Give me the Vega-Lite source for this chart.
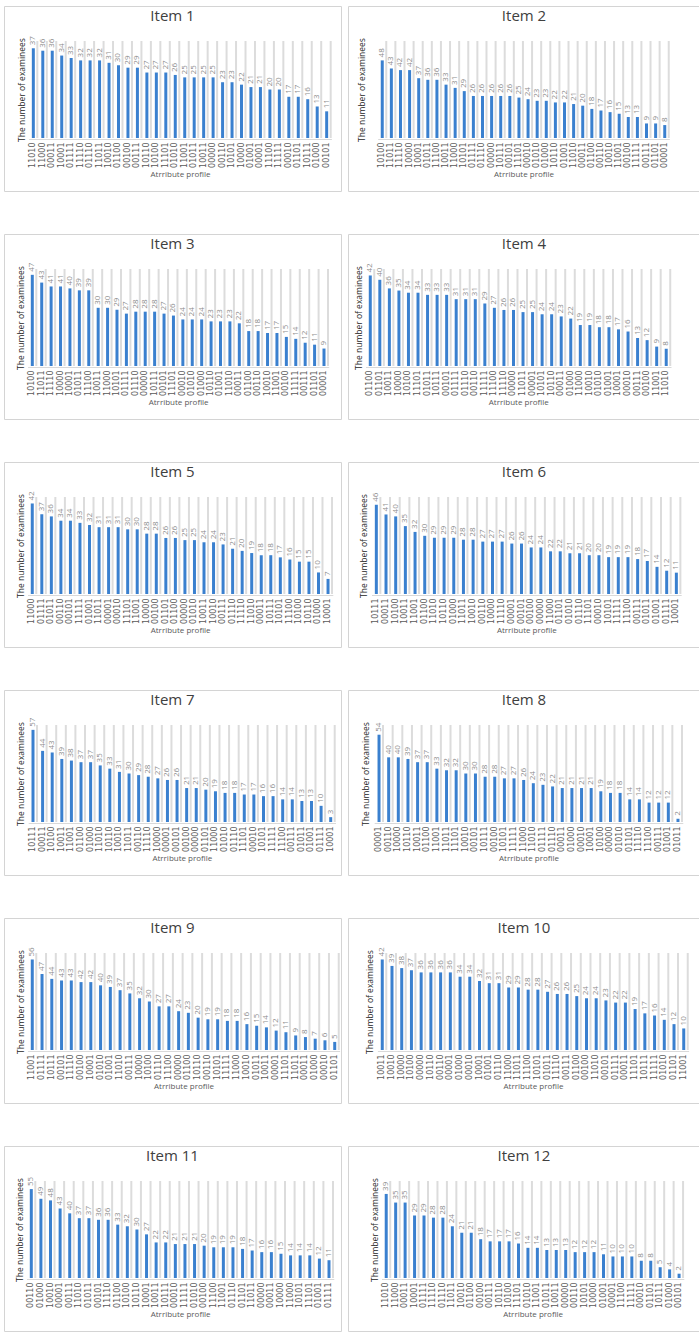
{
  "$schema": "https://vega.github.io/schema/vega-lite/v6.json",
  "background": "white",
  "padding": {"left": 3, "top": 5, "right": 0, "bottom": 0},
  "datasets": {
    "item1": [
      {"profile": "11010", "n": 37}, {"profile": "11000", "n": 36}, {"profile": "00011", "n": 36}, {"profile": "10001", "n": 34},
      {"profile": "01111", "n": 33}, {"profile": "11110", "n": 32}, {"profile": "01110", "n": 32}, {"profile": "11011", "n": 32},
      {"profile": "10010", "n": 31}, {"profile": "01100", "n": 30}, {"profile": "00100", "n": 29}, {"profile": "00111", "n": 29},
      {"profile": "10110", "n": 27}, {"profile": "10100", "n": 27}, {"profile": "11101", "n": 27}, {"profile": "01010", "n": 26},
      {"profile": "11001", "n": 25}, {"profile": "01011", "n": 25}, {"profile": "10011", "n": 25}, {"profile": "00000", "n": 25},
      {"profile": "00110", "n": 23}, {"profile": "10101", "n": 23}, {"profile": "10000", "n": 22}, {"profile": "01001", "n": 21},
      {"profile": "00001", "n": 21}, {"profile": "11100", "n": 20}, {"profile": "11111", "n": 20}, {"profile": "00010", "n": 17},
      {"profile": "01101", "n": 17}, {"profile": "10111", "n": 16}, {"profile": "01000", "n": 13}, {"profile": "00101", "n": 11}
    ],
    "item2": [
      {"profile": "10100", "n": 48}, {"profile": "11011", "n": 43}, {"profile": "11110", "n": 42}, {"profile": "10000", "n": 42},
      {"profile": "10001", "n": 37}, {"profile": "01011", "n": 36}, {"profile": "11100", "n": 36}, {"profile": "10011", "n": 33},
      {"profile": "11000", "n": 31}, {"profile": "10101", "n": 29}, {"profile": "01111", "n": 26}, {"profile": "01110", "n": 26},
      {"profile": "00000", "n": 26}, {"profile": "10111", "n": 26}, {"profile": "00101", "n": 26}, {"profile": "11101", "n": 25},
      {"profile": "00010", "n": 24}, {"profile": "01010", "n": 23}, {"profile": "01000", "n": 23}, {"profile": "10110", "n": 22},
      {"profile": "01001", "n": 22}, {"profile": "11010", "n": 21}, {"profile": "00011", "n": 20}, {"profile": "01100", "n": 18},
      {"profile": "00110", "n": 17}, {"profile": "10010", "n": 16}, {"profile": "11001", "n": 15}, {"profile": "00100", "n": 13},
      {"profile": "11111", "n": 13}, {"profile": "00111", "n": 9}, {"profile": "01101", "n": 9}, {"profile": "00001", "n": 8}
    ],
    "item3": [
      {"profile": "10100", "n": 47}, {"profile": "11011", "n": 43}, {"profile": "11110", "n": 41}, {"profile": "10000", "n": 41},
      {"profile": "10001", "n": 40}, {"profile": "01011", "n": 39}, {"profile": "11100", "n": 39}, {"profile": "10011", "n": 30},
      {"profile": "11000", "n": 30}, {"profile": "10101", "n": 29}, {"profile": "01111", "n": 27}, {"profile": "01110", "n": 28},
      {"profile": "00000", "n": 28}, {"profile": "10111", "n": 28}, {"profile": "00101", "n": 27}, {"profile": "11101", "n": 26},
      {"profile": "00010", "n": 24}, {"profile": "01010", "n": 24}, {"profile": "01000", "n": 24}, {"profile": "10110", "n": 23},
      {"profile": "01001", "n": 23}, {"profile": "11010", "n": 23}, {"profile": "00011", "n": 22}, {"profile": "01100", "n": 18},
      {"profile": "00110", "n": 18}, {"profile": "10010", "n": 17}, {"profile": "11001", "n": 17}, {"profile": "00100", "n": 15},
      {"profile": "11111", "n": 14}, {"profile": "00111", "n": 12}, {"profile": "01101", "n": 11}, {"profile": "00001", "n": 9}
    ],
    "item4": [
      {"profile": "01100", "n": 42}, {"profile": "01101", "n": 40}, {"profile": "10011", "n": 36}, {"profile": "10000", "n": 35},
      {"profile": "10100", "n": 34}, {"profile": "11101", "n": 34}, {"profile": "01011", "n": 33}, {"profile": "10111", "n": 33},
      {"profile": "00101", "n": 33}, {"profile": "01111", "n": 31}, {"profile": "01110", "n": 31}, {"profile": "00110", "n": 31},
      {"profile": "11111", "n": 29}, {"profile": "11100", "n": 27}, {"profile": "11110", "n": 26}, {"profile": "00000", "n": 26},
      {"profile": "11011", "n": 25}, {"profile": "00001", "n": 25}, {"profile": "10101", "n": 24}, {"profile": "10110", "n": 24},
      {"profile": "00011", "n": 23}, {"profile": "01000", "n": 22}, {"profile": "11000", "n": 19}, {"profile": "10010", "n": 19},
      {"profile": "01010", "n": 18}, {"profile": "01001", "n": 18}, {"profile": "10001", "n": 17}, {"profile": "00010", "n": 16},
      {"profile": "00111", "n": 13}, {"profile": "00100", "n": 12}, {"profile": "11001", "n": 9}, {"profile": "11010", "n": 8}
    ],
    "item5": [
      {"profile": "11000", "n": 42}, {"profile": "01111", "n": 37}, {"profile": "01011", "n": 36}, {"profile": "00110", "n": 34},
      {"profile": "00101", "n": 34}, {"profile": "11111", "n": 33}, {"profile": "01001", "n": 32}, {"profile": "11011", "n": 31},
      {"profile": "00001", "n": 31}, {"profile": "00010", "n": 31}, {"profile": "11101", "n": 30}, {"profile": "11001", "n": 30},
      {"profile": "10000", "n": 28}, {"profile": "00100", "n": 28}, {"profile": "01101", "n": 26}, {"profile": "01100", "n": 26},
      {"profile": "00000", "n": 25}, {"profile": "01010", "n": 25}, {"profile": "10011", "n": 24}, {"profile": "10010", "n": 24},
      {"profile": "00111", "n": 23}, {"profile": "01110", "n": 21}, {"profile": "11110", "n": 20}, {"profile": "11010", "n": 19},
      {"profile": "00011", "n": 18}, {"profile": "10111", "n": 18}, {"profile": "10101", "n": 17}, {"profile": "11100", "n": 16},
      {"profile": "10100", "n": 15}, {"profile": "10110", "n": 15}, {"profile": "01000", "n": 10}, {"profile": "10001", "n": 7}
    ],
    "item6": [
      {"profile": "10111", "n": 46}, {"profile": "00011", "n": 41}, {"profile": "10100", "n": 40}, {"profile": "10011", "n": 35},
      {"profile": "11001", "n": 32}, {"profile": "01100", "n": 30}, {"profile": "11010", "n": 29}, {"profile": "10110", "n": 29},
      {"profile": "01000", "n": 29}, {"profile": "11011", "n": 28}, {"profile": "10010", "n": 28}, {"profile": "00110", "n": 27},
      {"profile": "10000", "n": 27}, {"profile": "11110", "n": 27}, {"profile": "00001", "n": 26}, {"profile": "00101", "n": 26},
      {"profile": "00100", "n": 24}, {"profile": "00000", "n": 24}, {"profile": "11000", "n": 22}, {"profile": "01101", "n": 22},
      {"profile": "01010", "n": 21}, {"profile": "01110", "n": 21}, {"profile": "11101", "n": 20}, {"profile": "00010", "n": 20},
      {"profile": "10101", "n": 19}, {"profile": "11111", "n": 19}, {"profile": "11100", "n": 19}, {"profile": "00111", "n": 18},
      {"profile": "01011", "n": 17}, {"profile": "01001", "n": 14}, {"profile": "01111", "n": 12}, {"profile": "10001", "n": 11}
    ],
    "item7": [
      {"profile": "10111", "n": 57}, {"profile": "00011", "n": 44}, {"profile": "10100", "n": 43}, {"profile": "10011", "n": 39},
      {"profile": "11001", "n": 38}, {"profile": "01100", "n": 37}, {"profile": "01000", "n": 37}, {"profile": "11010", "n": 35},
      {"profile": "10110", "n": 33}, {"profile": "10010", "n": 31}, {"profile": "11011", "n": 30}, {"profile": "00110", "n": 29},
      {"profile": "11110", "n": 28}, {"profile": "10000", "n": 27}, {"profile": "00001", "n": 26}, {"profile": "00101", "n": 26},
      {"profile": "00100", "n": 21}, {"profile": "00000", "n": 21}, {"profile": "01101", "n": 20}, {"profile": "11000", "n": 19},
      {"profile": "01010", "n": 18}, {"profile": "01110", "n": 18}, {"profile": "11101", "n": 17}, {"profile": "00010", "n": 17},
      {"profile": "10101", "n": 16}, {"profile": "11111", "n": 16}, {"profile": "11100", "n": 14}, {"profile": "00111", "n": 14},
      {"profile": "01011", "n": 13}, {"profile": "01001", "n": 13}, {"profile": "01111", "n": 10}, {"profile": "10001", "n": 3}
    ],
    "item8": [
      {"profile": "00001", "n": 54}, {"profile": "00110", "n": 40}, {"profile": "10000", "n": 40}, {"profile": "10110", "n": 39},
      {"profile": "10011", "n": 37}, {"profile": "01100", "n": 37}, {"profile": "11001", "n": 33}, {"profile": "11011", "n": 32},
      {"profile": "11101", "n": 32}, {"profile": "10010", "n": 30}, {"profile": "00101", "n": 30}, {"profile": "10111", "n": 28},
      {"profile": "00100", "n": 28}, {"profile": "10101", "n": 27}, {"profile": "11111", "n": 27}, {"profile": "11000", "n": 26},
      {"profile": "11010", "n": 24}, {"profile": "01111", "n": 23}, {"profile": "01110", "n": 22}, {"profile": "00011", "n": 21},
      {"profile": "01000", "n": 21}, {"profile": "00010", "n": 21}, {"profile": "10001", "n": 21}, {"profile": "10100", "n": 19},
      {"profile": "00000", "n": 18}, {"profile": "01010", "n": 18}, {"profile": "01101", "n": 14}, {"profile": "11110", "n": 14},
      {"profile": "11100", "n": 12}, {"profile": "00111", "n": 12}, {"profile": "01001", "n": 12}, {"profile": "01011", "n": 2}
    ],
    "item9": [
      {"profile": "11001", "n": 56}, {"profile": "01111", "n": 47}, {"profile": "10111", "n": 44}, {"profile": "00101", "n": 43},
      {"profile": "11110", "n": 43}, {"profile": "00100", "n": 42}, {"profile": "10001", "n": 42}, {"profile": "01010", "n": 40},
      {"profile": "01001", "n": 39}, {"profile": "11010", "n": 37}, {"profile": "00111", "n": 35}, {"profile": "10000", "n": 32},
      {"profile": "10100", "n": 30}, {"profile": "01110", "n": 27}, {"profile": "11100", "n": 27}, {"profile": "00000", "n": 24},
      {"profile": "01100", "n": 23}, {"profile": "10110", "n": 20}, {"profile": "00110", "n": 19}, {"profile": "10101", "n": 19},
      {"profile": "11111", "n": 18}, {"profile": "11000", "n": 18}, {"profile": "10010", "n": 16}, {"profile": "01011", "n": 15},
      {"profile": "10011", "n": 14}, {"profile": "00001", "n": 12}, {"profile": "11101", "n": 11}, {"profile": "11011", "n": 9},
      {"profile": "00011", "n": 8}, {"profile": "01000", "n": 7}, {"profile": "00010", "n": 6}, {"profile": "01101", "n": 5}
    ],
    "item10": [
      {"profile": "10011", "n": 42}, {"profile": "10010", "n": 39}, {"profile": "10000", "n": 38}, {"profile": "10100", "n": 37},
      {"profile": "00000", "n": 36}, {"profile": "10110", "n": 36}, {"profile": "00110", "n": 36}, {"profile": "00001", "n": 36},
      {"profile": "01000", "n": 34}, {"profile": "00010", "n": 34}, {"profile": "10001", "n": 32}, {"profile": "01001", "n": 31},
      {"profile": "01110", "n": 31}, {"profile": "11000", "n": 29}, {"profile": "11011", "n": 29}, {"profile": "11100", "n": 28},
      {"profile": "10101", "n": 28}, {"profile": "01011", "n": 27}, {"profile": "11110", "n": 26}, {"profile": "00111", "n": 26},
      {"profile": "01100", "n": 25}, {"profile": "00100", "n": 24}, {"profile": "11010", "n": 24}, {"profile": "00101", "n": 23},
      {"profile": "01111", "n": 22}, {"profile": "00011", "n": 22}, {"profile": "11101", "n": 19}, {"profile": "10111", "n": 17},
      {"profile": "11111", "n": 16}, {"profile": "01010", "n": 14}, {"profile": "01101", "n": 12}, {"profile": "11001", "n": 10}
    ],
    "item11": [
      {"profile": "00110", "n": 55}, {"profile": "01000", "n": 49}, {"profile": "10010", "n": 48}, {"profile": "00001", "n": 43},
      {"profile": "00111", "n": 40}, {"profile": "11010", "n": 37}, {"profile": "01011", "n": 37}, {"profile": "00101", "n": 36},
      {"profile": "11110", "n": 36}, {"profile": "01100", "n": 33}, {"profile": "10100", "n": 32}, {"profile": "10110", "n": 30},
      {"profile": "10001", "n": 27}, {"profile": "10011", "n": 22}, {"profile": "10111", "n": 22}, {"profile": "00010", "n": 21},
      {"profile": "11111", "n": 21}, {"profile": "01010", "n": 21}, {"profile": "00100", "n": 20}, {"profile": "11100", "n": 19},
      {"profile": "11001", "n": 19}, {"profile": "01110", "n": 19}, {"profile": "01101", "n": 18}, {"profile": "11011", "n": 17},
      {"profile": "00000", "n": 16}, {"profile": "00011", "n": 16}, {"profile": "10000", "n": 15}, {"profile": "11000", "n": 14},
      {"profile": "10101", "n": 14}, {"profile": "11101", "n": 14}, {"profile": "01001", "n": 12}, {"profile": "01111", "n": 11}
    ],
    "item12": [
      {"profile": "11010", "n": 39}, {"profile": "11000", "n": 35}, {"profile": "00011", "n": 35}, {"profile": "10001", "n": 29},
      {"profile": "01111", "n": 29}, {"profile": "11110", "n": 28}, {"profile": "01110", "n": 28}, {"profile": "11011", "n": 24},
      {"profile": "10010", "n": 21}, {"profile": "01100", "n": 21}, {"profile": "00100", "n": 18}, {"profile": "00111", "n": 17},
      {"profile": "10110", "n": 17}, {"profile": "10100", "n": 17}, {"profile": "11101", "n": 16}, {"profile": "01010", "n": 14},
      {"profile": "11001", "n": 14}, {"profile": "01011", "n": 13}, {"profile": "10011", "n": 13}, {"profile": "00000", "n": 13},
      {"profile": "00110", "n": 12}, {"profile": "10101", "n": 12}, {"profile": "10000", "n": 12}, {"profile": "01001", "n": 11},
      {"profile": "00001", "n": 10}, {"profile": "11100", "n": 10}, {"profile": "11111", "n": 10}, {"profile": "00010", "n": 8},
      {"profile": "01101", "n": 8}, {"profile": "10111", "n": 5}, {"profile": "01000", "n": 4}, {"profile": "00101", "n": 2}
    ]
  },
  "spacing": 5,
  "hconcat": [
    {
      "spacing": 41,
      "vconcat": [
        {
          "width": 337, "height": 185, "title": "Item 1", "data": {"name": "item1"},
          "encoding": {"x": {"field": "profile", "type": "nominal", "sort": null, "scale": {"range": [24.6, 327.4]}, "title": "Atrribute profile"}},
          "layer": [
            {"mark": {"type": "bar", "color": "#dcdcdc", "width": 2, "xOffset": 4}, "encoding": {"y": {"datum": 40, "type": "quantitative", "scale": {"domain": [0, 40], "range": [132, 35]}, "title": "The number of examinees", "axis": {"offset": -22.5}}, "y2": {"datum": 0}}},
            {"mark": {"type": "bar", "color": "#3a80cf", "width": 3}, "encoding": {"y": {"field": "n", "type": "quantitative", "scale": {"domain": [0, 40], "range": [132, 35]}, "title": "The number of examinees", "axis": {"offset": -22.5}}}},
            {"mark": {"type": "text", "angle": 270, "align": "left", "baseline": "middle", "yOffset": -3, "fontSize": 8, "color": "#8c8c8c"}, "encoding": {"y": {"field": "n", "type": "quantitative", "scale": {"domain": [0, 40], "range": [132, 35]}, "title": "The number of examinees", "axis": {"offset": -22.5}}, "text": {"field": "n"}}}
          ]
        },
        {
          "width": 337, "height": 185, "title": "Item 3", "data": {"name": "item3"},
          "encoding": {"x": {"field": "profile", "type": "nominal", "sort": null, "scale": {"range": [23.6, 324.7]}, "title": "Atrribute profile"}},
          "layer": [
            {"mark": {"type": "bar", "color": "#dcdcdc", "width": 2, "xOffset": 4}, "encoding": {"y": {"datum": 50, "type": "quantitative", "scale": {"domain": [0, 50], "range": [132, 35]}, "title": "The number of examinees", "axis": {"offset": -21.5}}, "y2": {"datum": 0}}},
            {"mark": {"type": "bar", "color": "#3a80cf", "width": 3}, "encoding": {"y": {"field": "n", "type": "quantitative", "scale": {"domain": [0, 50], "range": [132, 35]}, "title": "The number of examinees", "axis": {"offset": -21.5}}}},
            {"mark": {"type": "text", "angle": 270, "align": "left", "baseline": "middle", "yOffset": -3, "fontSize": 8, "color": "#8c8c8c"}, "encoding": {"y": {"field": "n", "type": "quantitative", "scale": {"domain": [0, 50], "range": [132, 35]}, "title": "The number of examinees", "axis": {"offset": -21.5}}, "text": {"field": "n"}}}
          ]
        },
        {
          "width": 337, "height": 185, "title": "Item 5", "data": {"name": "item5"},
          "encoding": {"x": {"field": "profile", "type": "nominal", "sort": null, "scale": {"range": [23.5, 328.8]}, "title": "Atrribute profile"}},
          "layer": [
            {"mark": {"type": "bar", "color": "#dcdcdc", "width": 2, "xOffset": 4}, "encoding": {"y": {"datum": 45, "type": "quantitative", "scale": {"domain": [0, 45], "range": [132, 35]}, "title": "The number of examinees", "axis": {"offset": -21.5}}, "y2": {"datum": 0}}},
            {"mark": {"type": "bar", "color": "#3a80cf", "width": 3}, "encoding": {"y": {"field": "n", "type": "quantitative", "scale": {"domain": [0, 45], "range": [132, 35]}, "title": "The number of examinees", "axis": {"offset": -21.5}}}},
            {"mark": {"type": "text", "angle": 270, "align": "left", "baseline": "middle", "yOffset": -3, "fontSize": 8, "color": "#8c8c8c"}, "encoding": {"y": {"field": "n", "type": "quantitative", "scale": {"domain": [0, 45], "range": [132, 35]}, "title": "The number of examinees", "axis": {"offset": -21.5}}, "text": {"field": "n"}}}
          ]
        },
        {
          "width": 337, "height": 185, "title": "Item 7", "data": {"name": "item7"},
          "encoding": {"x": {"field": "profile", "type": "nominal", "sort": null, "scale": {"range": [24.2, 331.5]}, "title": "Atrribute profile"}},
          "layer": [
            {"mark": {"type": "bar", "color": "#dcdcdc", "width": 2, "xOffset": 4}, "encoding": {"y": {"datum": 60, "type": "quantitative", "scale": {"domain": [0, 60], "range": [132, 35]}, "title": "The number of examinees", "axis": {"offset": -21.5}}, "y2": {"datum": 0}}},
            {"mark": {"type": "bar", "color": "#3a80cf", "width": 3}, "encoding": {"y": {"field": "n", "type": "quantitative", "scale": {"domain": [0, 60], "range": [132, 35]}, "title": "The number of examinees", "axis": {"offset": -21.5}}}},
            {"mark": {"type": "text", "angle": 270, "align": "left", "baseline": "middle", "yOffset": -3, "fontSize": 8, "color": "#8c8c8c"}, "encoding": {"y": {"field": "n", "type": "quantitative", "scale": {"domain": [0, 60], "range": [132, 35]}, "title": "The number of examinees", "axis": {"offset": -21.5}}, "text": {"field": "n"}}}
          ]
        },
        {
          "width": 337, "height": 185, "title": "Item 9", "data": {"name": "item9"},
          "encoding": {"x": {"field": "profile", "type": "nominal", "sort": null, "scale": {"range": [23.4, 335.6]}, "title": "Atrribute profile"}},
          "layer": [
            {"mark": {"type": "bar", "color": "#dcdcdc", "width": 2, "xOffset": 4}, "encoding": {"y": {"datum": 60, "type": "quantitative", "scale": {"domain": [0, 60], "range": [132, 35]}, "title": "The number of examinees", "axis": {"offset": -21.5}}, "y2": {"datum": 0}}},
            {"mark": {"type": "bar", "color": "#3a80cf", "width": 3}, "encoding": {"y": {"field": "n", "type": "quantitative", "scale": {"domain": [0, 60], "range": [132, 35]}, "title": "The number of examinees", "axis": {"offset": -21.5}}}},
            {"mark": {"type": "text", "angle": 270, "align": "left", "baseline": "middle", "yOffset": -3, "fontSize": 8, "color": "#8c8c8c"}, "encoding": {"y": {"field": "n", "type": "quantitative", "scale": {"domain": [0, 60], "range": [132, 35]}, "title": "The number of examinees", "axis": {"offset": -21.5}}, "text": {"field": "n"}}}
          ]
        },
        {
          "width": 337, "height": 185, "title": "Item 11", "data": {"name": "item11"},
          "encoding": {"x": {"field": "profile", "type": "nominal", "sort": null, "scale": {"range": [22.5, 329.8]}, "title": "Atrribute profile"}},
          "layer": [
            {"mark": {"type": "bar", "color": "#dcdcdc", "width": 2, "xOffset": 4}, "encoding": {"y": {"datum": 60, "type": "quantitative", "scale": {"domain": [0, 60], "range": [132, 35]}, "title": "The number of examinees", "axis": {"offset": -20.5}}, "y2": {"datum": 0}}},
            {"mark": {"type": "bar", "color": "#3a80cf", "width": 3}, "encoding": {"y": {"field": "n", "type": "quantitative", "scale": {"domain": [0, 60], "range": [132, 35]}, "title": "The number of examinees", "axis": {"offset": -20.5}}}},
            {"mark": {"type": "text", "angle": 270, "align": "left", "baseline": "middle", "yOffset": -3, "fontSize": 8, "color": "#8c8c8c"}, "encoding": {"y": {"field": "n", "type": "quantitative", "scale": {"domain": [0, 60], "range": [132, 35]}, "title": "The number of examinees", "axis": {"offset": -20.5}}, "text": {"field": "n"}}}
          ]
        }
      ]
    },
    {
      "spacing": 41,
      "vconcat": [
        {
          "width": 352, "height": 185, "title": "Item 2", "data": {"name": "item2"},
          "encoding": {"x": {"field": "profile", "type": "nominal", "sort": null, "scale": {"range": [29.7, 321.3]}, "title": "Atrribute profile"}},
          "layer": [
            {"mark": {"type": "bar", "color": "#dcdcdc", "width": 2, "xOffset": 4}, "encoding": {"y": {"datum": 60, "type": "quantitative", "scale": {"domain": [0, 60], "range": [132, 35]}, "title": "The number of examinees", "axis": {"offset": -18.5}}, "y2": {"datum": 0}}},
            {"mark": {"type": "bar", "color": "#3a80cf", "width": 3}, "encoding": {"y": {"field": "n", "type": "quantitative", "scale": {"domain": [0, 60], "range": [132, 35]}, "title": "The number of examinees", "axis": {"offset": -18.5}}}},
            {"mark": {"type": "text", "angle": 270, "align": "left", "baseline": "middle", "yOffset": -3, "fontSize": 8, "color": "#8c8c8c"}, "encoding": {"y": {"field": "n", "type": "quantitative", "scale": {"domain": [0, 60], "range": [132, 35]}, "title": "The number of examinees", "axis": {"offset": -18.5}}, "text": {"field": "n"}}}
          ]
        },
        {
          "width": 352, "height": 185, "title": "Item 4", "data": {"name": "item4"},
          "encoding": {"x": {"field": "profile", "type": "nominal", "sort": null, "scale": {"range": [17.5, 323]}, "title": "Atrribute profile"}},
          "layer": [
            {"mark": {"type": "bar", "color": "#dcdcdc", "width": 2, "xOffset": 4}, "encoding": {"y": {"datum": 45, "type": "quantitative", "scale": {"domain": [0, 45], "range": [132, 35]}, "title": "The number of examinees", "axis": {"offset": -15.5}}, "y2": {"datum": 0}}},
            {"mark": {"type": "bar", "color": "#3a80cf", "width": 3}, "encoding": {"y": {"field": "n", "type": "quantitative", "scale": {"domain": [0, 45], "range": [132, 35]}, "title": "The number of examinees", "axis": {"offset": -15.5}}}},
            {"mark": {"type": "text", "angle": 270, "align": "left", "baseline": "middle", "yOffset": -3, "fontSize": 8, "color": "#8c8c8c"}, "encoding": {"y": {"field": "n", "type": "quantitative", "scale": {"domain": [0, 45], "range": [132, 35]}, "title": "The number of examinees", "axis": {"offset": -15.5}}, "text": {"field": "n"}}}
          ]
        },
        {
          "width": 352, "height": 185, "title": "Item 6", "data": {"name": "item6"},
          "encoding": {"x": {"field": "profile", "type": "nominal", "sort": null, "scale": {"range": [23.5, 333.2]}, "title": "Atrribute profile"}},
          "layer": [
            {"mark": {"type": "bar", "color": "#dcdcdc", "width": 2, "xOffset": 4}, "encoding": {"y": {"datum": 50, "type": "quantitative", "scale": {"domain": [0, 50], "range": [132, 35]}, "title": "The number of examinees", "axis": {"offset": -20.5}}, "y2": {"datum": 0}}},
            {"mark": {"type": "bar", "color": "#3a80cf", "width": 3}, "encoding": {"y": {"field": "n", "type": "quantitative", "scale": {"domain": [0, 50], "range": [132, 35]}, "title": "The number of examinees", "axis": {"offset": -20.5}}}},
            {"mark": {"type": "text", "angle": 270, "align": "left", "baseline": "middle", "yOffset": -3, "fontSize": 8, "color": "#8c8c8c"}, "encoding": {"y": {"field": "n", "type": "quantitative", "scale": {"domain": [0, 50], "range": [132, 35]}, "title": "The number of examinees", "axis": {"offset": -20.5}}, "text": {"field": "n"}}}
          ]
        },
        {
          "width": 352, "height": 185, "title": "Item 8", "data": {"name": "item8"},
          "encoding": {"x": {"field": "profile", "type": "nominal", "sort": null, "scale": {"range": [26.2, 334.8]}, "title": "Atrribute profile"}},
          "layer": [
            {"mark": {"type": "bar", "color": "#dcdcdc", "width": 2, "xOffset": 4}, "encoding": {"y": {"datum": 60, "type": "quantitative", "scale": {"domain": [0, 60], "range": [132, 35]}, "title": "The number of examinees", "axis": {"offset": -22.5}}, "y2": {"datum": 0}}},
            {"mark": {"type": "bar", "color": "#3a80cf", "width": 3}, "encoding": {"y": {"field": "n", "type": "quantitative", "scale": {"domain": [0, 60], "range": [132, 35]}, "title": "The number of examinees", "axis": {"offset": -22.5}}}},
            {"mark": {"type": "text", "angle": 270, "align": "left", "baseline": "middle", "yOffset": -3, "fontSize": 8, "color": "#8c8c8c"}, "encoding": {"y": {"field": "n", "type": "quantitative", "scale": {"domain": [0, 60], "range": [132, 35]}, "title": "The number of examinees", "axis": {"offset": -22.5}}, "text": {"field": "n"}}}
          ]
        },
        {
          "width": 352, "height": 185, "title": "Item 10", "data": {"name": "item10"},
          "encoding": {"x": {"field": "profile", "type": "nominal", "sort": null, "scale": {"range": [29.4, 340.6]}, "title": "Atrribute profile"}},
          "layer": [
            {"mark": {"type": "bar", "color": "#dcdcdc", "width": 2, "xOffset": 4}, "encoding": {"y": {"datum": 45, "type": "quantitative", "scale": {"domain": [0, 45], "range": [132, 35]}, "title": "The number of examinees", "axis": {"offset": -26.5}}, "y2": {"datum": 0}}},
            {"mark": {"type": "bar", "color": "#3a80cf", "width": 3}, "encoding": {"y": {"field": "n", "type": "quantitative", "scale": {"domain": [0, 45], "range": [132, 35]}, "title": "The number of examinees", "axis": {"offset": -26.5}}}},
            {"mark": {"type": "text", "angle": 270, "align": "left", "baseline": "middle", "yOffset": -3, "fontSize": 8, "color": "#8c8c8c"}, "encoding": {"y": {"field": "n", "type": "quantitative", "scale": {"domain": [0, 45], "range": [132, 35]}, "title": "The number of examinees", "axis": {"offset": -26.5}}, "text": {"field": "n"}}}
          ]
        },
        {
          "width": 352, "height": 185, "title": "Item 12", "data": {"name": "item12"},
          "encoding": {"x": {"field": "profile", "type": "nominal", "sort": null, "scale": {"range": [33.5, 335.8]}, "title": "Atrribute profile"}},
          "layer": [
            {"mark": {"type": "bar", "color": "#dcdcdc", "width": 2, "xOffset": 4}, "encoding": {"y": {"datum": 45, "type": "quantitative", "scale": {"domain": [0, 45], "range": [132, 35]}, "title": "The number of examinees", "axis": {"offset": -31.5}}, "y2": {"datum": 0}}},
            {"mark": {"type": "bar", "color": "#3a80cf", "width": 3}, "encoding": {"y": {"field": "n", "type": "quantitative", "scale": {"domain": [0, 45], "range": [132, 35]}, "title": "The number of examinees", "axis": {"offset": -31.5}}}},
            {"mark": {"type": "text", "angle": 270, "align": "left", "baseline": "middle", "yOffset": -3, "fontSize": 8, "color": "#8c8c8c"}, "encoding": {"y": {"field": "n", "type": "quantitative", "scale": {"domain": [0, 45], "range": [132, 35]}, "title": "The number of examinees", "axis": {"offset": -31.5}}, "text": {"field": "n"}}}
          ]
        }
      ]
    }
  ],
  "config": {
    "font": "Open Sans",
    "view": {"stroke": "#d4d4d4", "strokeWidth": 1},
    "title": {"fontSize": 15, "fontWeight": "normal", "color": "#404040", "font": "Open Sans", "anchor": "middle", "offset": -18},
    "axisX": {
      "offset": -52, "labelAngle": 270, "labelFontSize": 8, "labelColor": "#595959", "labelFont": "DejaVu Sans",
      "labelPadding": 3, "ticks": false, "domain": true, "domainColor": "#d9d9d9", "grid": false, "labelOverlap": false,
      "titleFontSize": 8, "titleFontWeight": "normal", "titleColor": "#595959", "titlePadding": 3, "titleFont": "Open Sans"
    },
    "axisY": {
      "labels": false, "ticks": false, "domain": true, "domainOpacity": 0, "grid": false,
      "titleFontSize": 8.5, "titleFontWeight": "normal", "titleColor": "#262626", "titleFont": "Open Sans",
      "titlePadding": 0
    }
  }
}
